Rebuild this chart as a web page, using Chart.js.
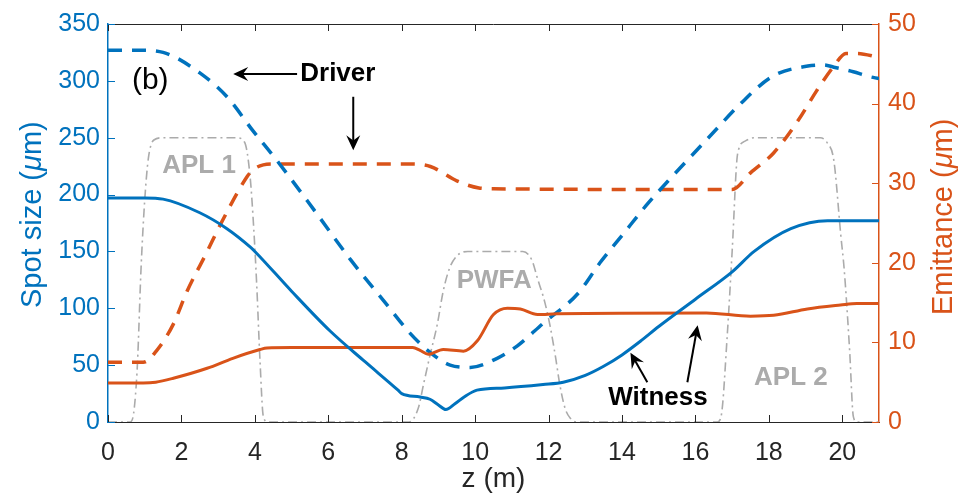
<!DOCTYPE html>
<html>
<head>
<meta charset="utf-8">
<script src="https://cdn.jsdelivr.net/npm/chart.js@4.4.0/dist/chart.umd.min.js"></script>
<style>
  body { margin: 0; background: #fff; }
  #wrap { width: 972px; height: 502px; }
</style>
</head>
<body>
<div id="wrap"><canvas id="plot" width="972" height="502"></canvas></div>
<script>
// driver spot size, left axis (um)
var zDrvSpot = [0, 0.8, 1.5, 2.5, 3.24, 3.95, 4.6, 5.6, 6.6, 7.5, 8.23, 8.78, 9.32, 9.87, 10.6, 11.15, 11.86, 12.8, 13.4, 14.0, 14.7, 15.4, 16.5, 17.2, 18.1, 19.06, 19.5, 19.77, 20.3, 20.7, 21];
var drvSpot = [327, 327, 325, 307, 286, 256, 230, 187, 143, 107, 78, 61, 50, 48, 56, 67, 87, 113, 140, 164, 192, 217, 255, 279, 304, 313, 314, 312, 308, 304, 302];

// witness spot size, left axis (um)
var zWitSpot = [0, 1.0, 1.5, 2.5, 3.24, 3.87, 4.0, 5.0, 6.05, 7.0, 7.9, 8.0, 8.5, 8.77, 9.0, 9.2, 9.45, 9.7, 10.05, 10.8, 11.85, 12.4, 13.0, 13.5, 14.0, 14.5, 15.0, 16.0, 17.0, 17.6, 18.6, 19.6, 21];
var witSpot = [197, 197, 196, 184, 170, 154, 150, 115, 80, 53, 28, 25, 22, 20, 15, 11, 16, 22, 28, 30, 33, 35, 41, 49, 59, 71, 84, 108, 132, 150, 170, 177, 177];

// driver emittance, right axis (um)
var zDrvEmit = [0, 0.96, 1.33, 1.78, 2.15, 2.7, 3.05, 3.8, 3.95, 4.23, 4.5, 8.3, 8.78, 9.5, 10.1, 10.5, 17.0, 17.5, 18.13, 18.8, 19.3, 19.77, 20.1, 20.4, 21];
var drvEmit = [7.5, 7.5, 9.0, 12.3, 16.4, 21.4, 24.7, 30.9, 31.7, 32.3, 32.4, 32.4, 32.1, 30.3, 29.4, 29.3, 29.2, 31.3, 33.8, 37.9, 41.6, 44.7, 46.3, 46.3, 45.8];

// witness emittance, right axis (um)
var zWitEmit = [0, 0.96, 1.3, 1.78, 2.7, 3.4, 4.14, 4.33, 5.0, 8.3, 8.5, 8.72, 9.13, 9.68, 10.06, 10.5, 10.88, 11.23, 11.7, 12.24, 16.3, 17.5, 18.13, 19.05, 19.95, 20.4, 21];
var witEmit = [4.9, 4.9, 5.0, 5.5, 6.75, 8.0, 9.1, 9.3, 9.35, 9.35, 9.0, 8.5, 9.1, 8.9, 10.2, 13.5, 14.3, 14.2, 13.5, 13.6, 13.7, 13.3, 13.4, 14.2, 14.7, 14.9, 14.9];

// plasma / lens profiles (APL 1, PWFA, APL 2), left axis units
var zProf = [0, 0.6, 0.7, 0.8, 0.9, 1.0, 1.1, 1.25, 1.5, 3.5, 3.72, 3.87, 3.97, 4.05, 4.14, 4.23, 4.35,
             8.2, 8.45, 8.6, 8.78, 8.97, 9.13, 9.3, 9.5, 9.8, 11.3, 11.55, 11.7, 11.9, 12.05, 12.2, 12.3, 12.45, 12.6, 12.75,
             16.6, 16.7, 16.87, 17.0, 17.15, 17.35, 17.6, 19.4, 19.6, 19.77, 19.96, 20.05, 20.2, 20.3, 20.4, 21];
var prof = [0, 0, 8, 50, 135, 195, 232, 248, 250, 250, 246, 216, 170, 121, 54, 5, 0,
            0, 12, 34, 60, 86, 115, 135, 146, 150, 150, 142, 126, 105, 83, 55, 34, 12, 3, 0,
            0, 5, 78, 150, 236, 247, 250, 250, 245, 230, 164, 135, 63, 5, 0, 0];

var xTicks = [0, 2, 4, 6, 8, 10, 12, 14, 16, 18, 20];
var leftTicks = [0, 50, 100, 150, 200, 250, 300, 350];
var rightTicks = [0, 10, 20, 30, 40, 50];

// text labels, placed in (z, spot size) coordinates
var noteText = ['(b)', 'Driver', 'Witness', 'APL 1', 'PWFA', 'APL 2'];
var noteZ = [1.15, 6.26, 14.98, 2.48, 10.52, 18.6];
var noteVal = [300, 306, 21, 225, 124, 39];
// arrows: tail -> head, same coordinates
var arrowTail = [[5.15, 306], [6.68, 286], [14.69, 35], [15.78, 35]];
var arrowHead = [[3.41, 306], [6.68, 239], [14.23, 61], [16.06, 85]];

var BLUE = '#0072BD', ORANGE = '#D95319', GREY = '#ababab', INK = '#262626';
var FONT = '"Liberation Sans", Arial, Helvetica, sans-serif';

function pts(zs, vs) {
  return zs.map(function (z, i) { return { x: z, y: vs[i] }; });
}

function arrow(c, x1, y1, x2, y2) {
  var a = Math.atan2(y2 - y1, x2 - x1), ca = Math.cos(a), sa = Math.sin(a);
  var L = 15, W = 7;
  c.beginPath();
  c.moveTo(x1, y1);
  c.lineTo(x2 - ca * 8, y2 - sa * 8);
  c.stroke();
  c.beginPath();
  c.moveTo(x2, y2);
  c.lineTo(x2 - L * ca - W * sa, y2 - L * sa + W * ca);
  c.lineTo(x2 - 0.65 * L * ca, y2 - 0.65 * L * sa);
  c.lineTo(x2 - L * ca + W * sa, y2 - L * sa - W * ca);
  c.closePath();
  c.fill();
}

// "prefix (μm)" with an italic mu, written along the current x direction
function unitText(c, prefix, x, y, size) {
  var parts = [[prefix + ' (', ''], ['μ', 'italic '], ['m)', '']];
  parts.forEach(function (p) {
    c.font = p[1] + size + 'px ' + FONT;
    c.fillText(p[0], x, y);
    x += c.measureText(p[0]).width;
  });
}

// box top line, inward tick marks, axis titles
var frame = {
  id: 'frame',
  afterDatasetsDraw: function (chart) {
    var c = chart.ctx, a = chart.chartArea;
    var sx = chart.scales.x, sl = chart.scales.y, sr = chart.scales.y2;
    var T = 7;
    c.save();
    c.lineWidth = 1;
    c.strokeStyle = INK;
    c.beginPath();
    c.moveTo(a.left, a.top + 0.5);
    c.lineTo(a.right, a.top + 0.5);
    xTicks.forEach(function (v) {
      var p = Math.round(sx.getPixelForValue(v)) + 0.5;
      c.moveTo(p, a.bottom); c.lineTo(p, a.bottom - T);
      c.moveTo(p, a.top); c.lineTo(p, a.top + T);
    });
    c.stroke();
    c.strokeStyle = BLUE;
    c.beginPath();
    leftTicks.forEach(function (v) {
      var p = Math.round(sl.getPixelForValue(v)) + 0.5;
      c.moveTo(a.left, p); c.lineTo(a.left + T, p);
    });
    c.stroke();
    c.strokeStyle = ORANGE;
    c.beginPath();
    rightTicks.forEach(function (v) {
      var p = Math.round(sr.getPixelForValue(v)) + 0.5;
      c.moveTo(a.right, p); c.lineTo(a.right - T, p);
    });
    c.stroke();

    // axis titles
    c.textBaseline = 'alphabetic';
    c.textAlign = 'left';
    c.fillStyle = INK;
    c.font = '28px ' + FONT;
    var w = c.measureText('z (m)').width;
    c.fillText('z (m)', (a.left + a.right) / 2 - w / 2, 487);

    c.save();
    c.translate(41, 308);
    c.rotate(-Math.PI / 2);
    c.fillStyle = BLUE;
    unitText(c, 'Spot size', 0, 0, 29);
    c.restore();

    c.save();
    c.translate(952, 315);
    c.rotate(-Math.PI / 2);
    c.fillStyle = ORANGE;
    unitText(c, 'Emittance', 0, 0, 29);
    c.restore();
    c.restore();
  }
};

// labels and arrows
var notes = {
  id: 'notes',
  afterDraw: function (chart) {
    var c = chart.ctx, sx = chart.scales.x, sl = chart.scales.y;
    c.save();
    c.textAlign = 'center';
    c.textBaseline = 'middle';
    noteText.forEach(function (t, i) {
      var x = sx.getPixelForValue(noteZ[i]), y = sl.getPixelForValue(noteVal[i]);
      if (t === '(b)') {
        c.fillStyle = '#000';
        c.font = '30px ' + FONT;
      } else if (t === 'Driver' || t === 'Witness') {
        c.fillStyle = '#000';
        c.font = 'bold 26px ' + FONT;
      } else {
        c.fillStyle = GREY;
        c.font = 'bold 26px ' + FONT;
      }
      c.fillText(t, x, y);
    });
    c.strokeStyle = '#000';
    c.fillStyle = '#000';
    c.lineWidth = 2;
    arrowTail.forEach(function (p, i) {
      arrow(c, sx.getPixelForValue(p[0]), sl.getPixelForValue(p[1]),
        sx.getPixelForValue(arrowHead[i][0]), sl.getPixelForValue(arrowHead[i][1]));
    });
    c.restore();
  }
};

var line = { pointRadius: 0, fill: false, cubicInterpolationMode: 'monotone' };

new Chart(document.getElementById('plot'), {
  type: 'line',
  data: {
    datasets: [
      Object.assign({ data: pts(zWitSpot, witSpot), borderColor: BLUE, borderWidth: 3, yAxisID: 'y' }, line),
      Object.assign({ data: pts(zWitEmit, witEmit), borderColor: ORANGE, borderWidth: 3, yAxisID: 'y2' }, line),
      Object.assign({ data: pts(zDrvSpot, drvSpot), borderColor: BLUE, borderWidth: 3.5, borderDash: [14, 10], yAxisID: 'y' }, line),
      Object.assign({ data: pts(zDrvEmit, drvEmit), borderColor: ORANGE, borderWidth: 3.5, borderDash: [14, 10], yAxisID: 'y2' }, line),
      Object.assign({ data: pts(zProf, prof), borderColor: GREY, borderWidth: 1.6, borderDash: [9, 4, 2, 4], yAxisID: 'y' }, line)
    ]
  },
  options: {
    responsive: false,
    animation: false,
    devicePixelRatio: 1,
    layout: { padding: { top: 19, left: 0, right: 0, bottom: 0 } },
    plugins: { legend: { display: false }, tooltip: { enabled: false } },
    scales: {
      x: {
        type: 'linear', min: 0, max: 21,
        afterBuildTicks: function (s) { s.ticks = xTicks.map(function (v) { return { value: v }; }); },
        afterFit: function (s) { s.height = 80; },
        grid: { display: false, drawTicks: false },
        border: { color: INK, width: 1 },
        ticks: { color: INK, font: { family: FONT, size: 25 }, padding: 16, maxRotation: 0 }
      },
      y: {
        position: 'left', min: 0, max: 350,
        afterBuildTicks: function (s) { s.ticks = leftTicks.map(function (v) { return { value: v }; }); },
        afterFit: function (s) { s.width = 108; },
        grid: { display: false, drawTicks: false },
        border: { color: BLUE, width: 1.5 },
        ticks: { color: BLUE, font: { family: FONT, size: 25 }, padding: 8 }
      },
      y2: {
        position: 'right', min: 0, max: 50,
        afterBuildTicks: function (s) { s.ticks = rightTicks.map(function (v) { return { value: v }; }); },
        afterFit: function (s) { s.width = 93; },
        grid: { display: false, drawTicks: false },
        border: { color: ORANGE, width: 1.5 },
        ticks: { color: ORANGE, font: { family: FONT, size: 25 }, padding: 9 }
      }
    }
  },
  plugins: [frame, notes]
});
</script>
</body>
</html>
